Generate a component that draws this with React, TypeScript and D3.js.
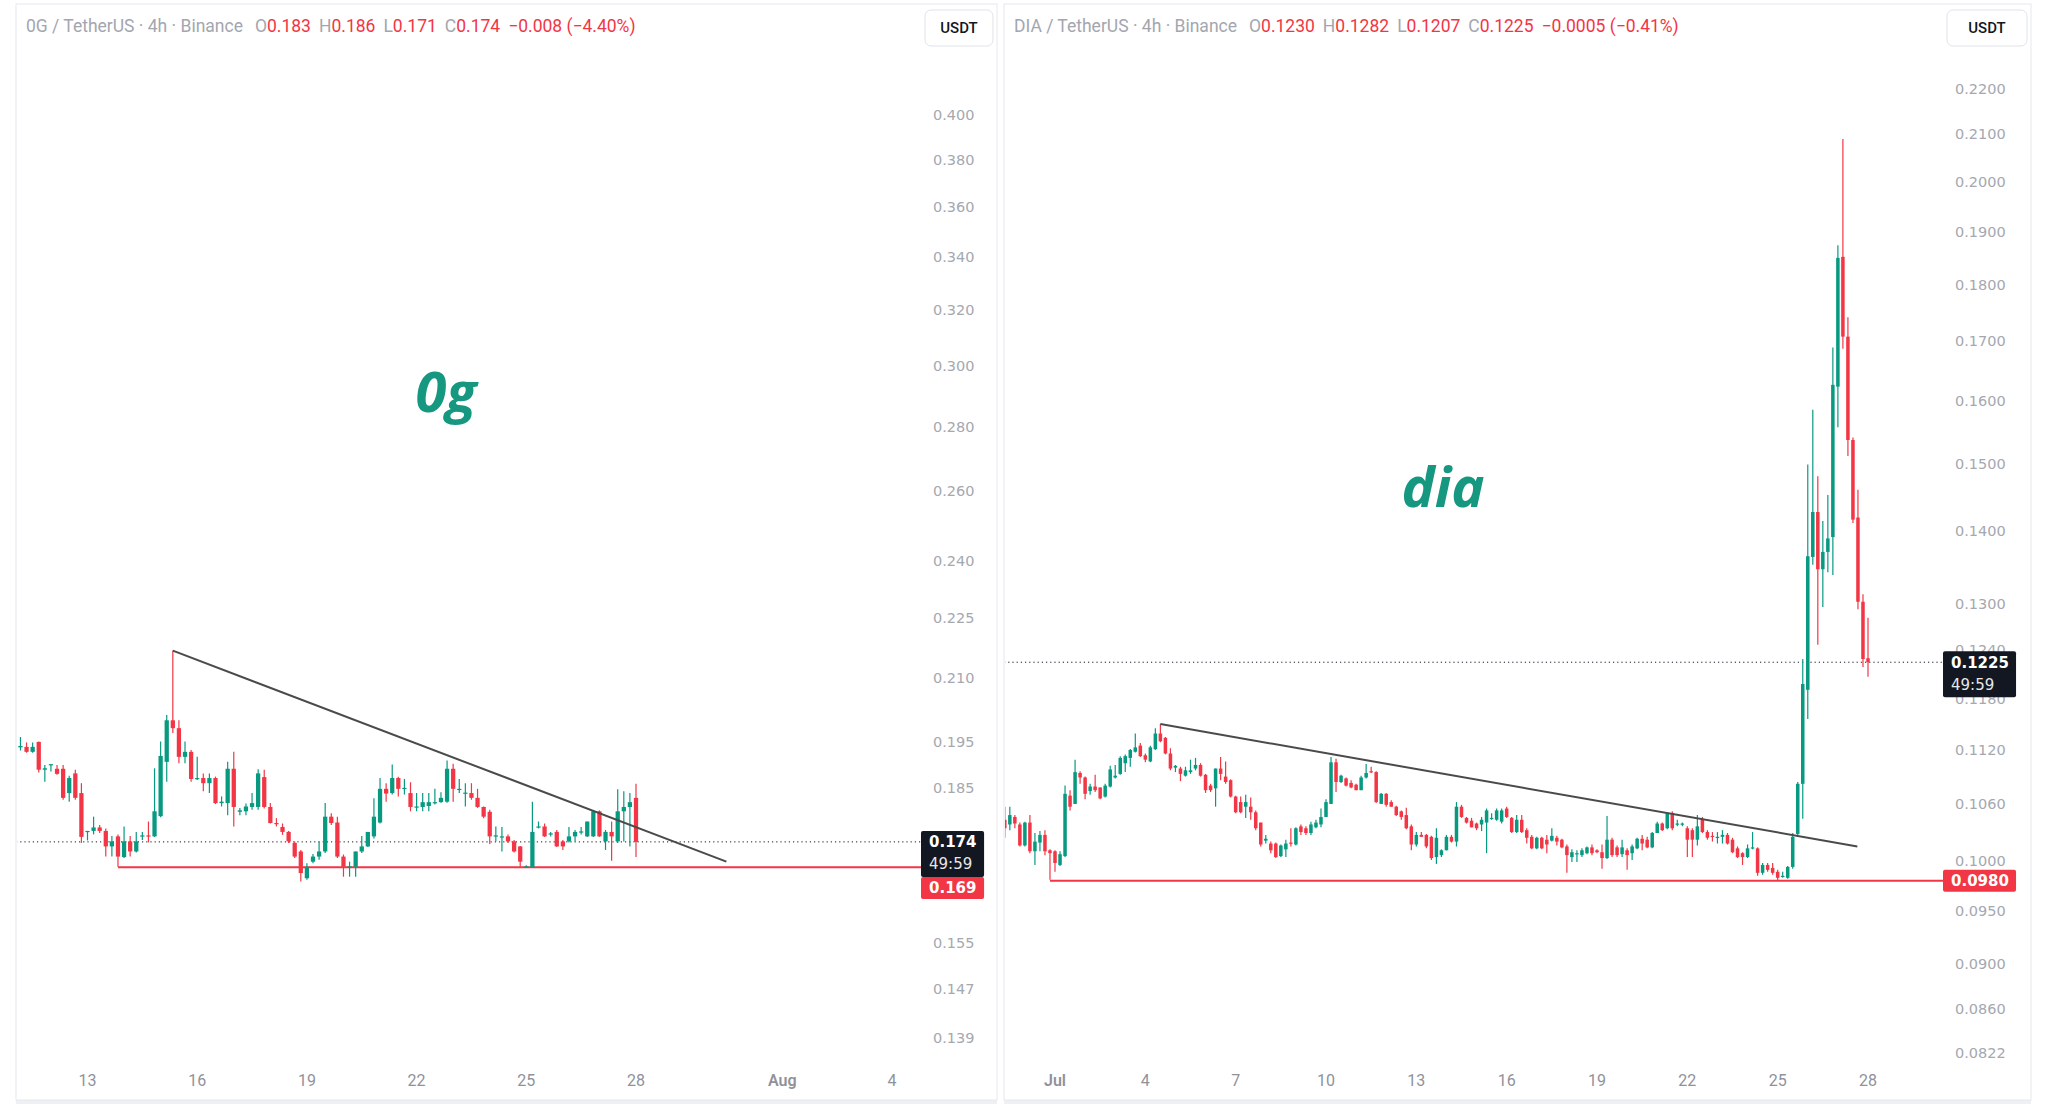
import { useEffect } from "react";
import * as d3 from "d3";

type Candle = [number, number, number, number]; // open, high, low, close

const H4 = 4 * 3600 * 1000;
const UP = "#089981";
const DOWN = "#f23645";

// ── 0G / USDT, 4h ────────────────────────────────────────────────────────────
const OG_FIRST = Date.UTC(2025, 6, 11, 0);
const OG_CANDLES: Candle[] = [
  [0.1971, 0.1974, 0.1944, 0.1948], [0.1939, 0.1962, 0.1932, 0.1942], [0.194, 0.195, 0.1927, 0.1929],
  [0.1929, 0.195, 0.1927, 0.194], [0.1951, 0.1952, 0.1884, 0.189], [0.189, 0.19, 0.1864, 0.1893],
  [0.19, 0.1902, 0.1886, 0.1902], [0.1892, 0.19, 0.1879, 0.1881], [0.1892, 0.19, 0.1826, 0.183],
  [0.184, 0.1877, 0.1822, 0.1872], [0.1882, 0.189, 0.1826, 0.183], [0.184, 0.1861, 0.1738, 0.175],
  [0.176, 0.1762, 0.1743, 0.1762], [0.1762, 0.1791, 0.1755, 0.1769], [0.1769, 0.1774, 0.1758, 0.1762],
  [0.1762, 0.1767, 0.1711, 0.1731], [0.1731, 0.1752, 0.1711, 0.1741], [0.1751, 0.1755, 0.1691, 0.1711],
  [0.171, 0.1771, 0.1708, 0.1741], [0.1741, 0.1752, 0.1711, 0.1721], [0.1721, 0.176, 0.1719, 0.1741],
  [0.1751, 0.176, 0.1744, 0.1753], [0.1753, 0.1781, 0.1739, 0.1751], [0.1751, 0.1893, 0.175, 0.1802],
  [0.1792, 0.1952, 0.179, 0.192], [0.1907, 0.2012, 0.1864, 0.2], [0.2, 0.2166, 0.1971, 0.1982],
  [0.1982, 0.2, 0.1904, 0.1918], [0.1918, 0.1952, 0.1904, 0.1929], [0.1929, 0.1933, 0.1864, 0.187],
  [0.187, 0.1918, 0.1868, 0.1872], [0.1872, 0.1882, 0.1844, 0.1861], [0.1861, 0.1882, 0.184, 0.1872],
  [0.1872, 0.1875, 0.1817, 0.1819], [0.1819, 0.1833, 0.1812, 0.1822], [0.1819, 0.1907, 0.1794, 0.1892],
  [0.1892, 0.1929, 0.1771, 0.1811], [0.1801, 0.1809, 0.1794, 0.1804], [0.1802, 0.1818, 0.1794, 0.1812],
  [0.1811, 0.184, 0.1805, 0.1819], [0.1811, 0.1891, 0.1805, 0.1882], [0.1874, 0.189, 0.1808, 0.1811],
  [0.1811, 0.1819, 0.1777, 0.1778], [0.1778, 0.1788, 0.1771, 0.1777], [0.177, 0.1777, 0.1754, 0.176],
  [0.176, 0.1762, 0.1738, 0.1741], [0.1738, 0.1741, 0.1708, 0.1711], [0.1721, 0.1724, 0.1663, 0.1679],
  [0.1669, 0.1698, 0.1666, 0.1691], [0.1701, 0.1716, 0.1698, 0.1711], [0.1711, 0.1741, 0.1705, 0.1721],
  [0.1721, 0.1819, 0.1718, 0.1791], [0.1791, 0.1798, 0.1774, 0.1778], [0.1779, 0.1791, 0.1708, 0.1711],
  [0.1711, 0.1715, 0.1672, 0.1691], [0.169, 0.1701, 0.1672, 0.1692], [0.1691, 0.1721, 0.1672, 0.1721],
  [0.1721, 0.1752, 0.1718, 0.1731], [0.1731, 0.176, 0.173, 0.176], [0.1751, 0.1829, 0.1747, 0.1791],
  [0.1779, 0.1872, 0.1777, 0.1849], [0.1849, 0.1861, 0.1822, 0.1839], [0.184, 0.1901, 0.1837, 0.1872],
  [0.1872, 0.1875, 0.1833, 0.1849], [0.185, 0.187, 0.1837, 0.1851], [0.184, 0.1863, 0.1802, 0.1811],
  [0.1812, 0.184, 0.1802, 0.1812], [0.1811, 0.184, 0.1802, 0.1821], [0.1813, 0.184, 0.1802, 0.1821],
  [0.182, 0.1849, 0.1816, 0.1821], [0.1821, 0.1842, 0.182, 0.183], [0.1822, 0.191, 0.182, 0.1892],
  [0.1892, 0.1903, 0.1822, 0.1849], [0.1849, 0.187, 0.184, 0.1849], [0.1839, 0.1861, 0.1812, 0.1841],
  [0.184, 0.1861, 0.1826, 0.183], [0.183, 0.1849, 0.1809, 0.1811], [0.1811, 0.1812, 0.1788, 0.1791],
  [0.1801, 0.1805, 0.1736, 0.1751], [0.1752, 0.1771, 0.1741, 0.1753], [0.1751, 0.177, 0.1721, 0.1751],
  [0.1751, 0.1755, 0.1738, 0.1741], [0.1741, 0.1744, 0.1719, 0.1721], [0.1731, 0.1732, 0.1691, 0.1701],
  [0.169, 0.1694, 0.169, 0.1692], [0.169, 0.1822, 0.169, 0.176], [0.177, 0.1781, 0.1767, 0.1771],
  [0.1771, 0.1777, 0.175, 0.1751], [0.1755, 0.176, 0.1751, 0.1757], [0.176, 0.1764, 0.173, 0.1731],
  [0.1741, 0.1744, 0.1724, 0.1731], [0.1741, 0.177, 0.1739, 0.1751], [0.1751, 0.1764, 0.1741, 0.176],
  [0.176, 0.177, 0.1755, 0.1761], [0.1751, 0.1781, 0.175, 0.1781], [0.1751, 0.1804, 0.175, 0.1802],
  [0.1802, 0.1804, 0.175, 0.1751], [0.1741, 0.1764, 0.1724, 0.176], [0.176, 0.1781, 0.1703, 0.1751],
  [0.1741, 0.1848, 0.1738, 0.1802], [0.1802, 0.1844, 0.1741, 0.1811], [0.1811, 0.184, 0.1731, 0.1821],
  [0.183, 0.186, 0.171, 0.174],
];
const OG_PRICE_TICKS = [0.4, 0.38, 0.36, 0.34, 0.32, 0.3, 0.28, 0.26, 0.24, 0.225, 0.21, 0.195, 0.185, 0.155, 0.147, 0.139];
const OG_TIME_TICKS = [
  Date.UTC(2025, 6, 13), Date.UTC(2025, 6, 16), Date.UTC(2025, 6, 19), Date.UTC(2025, 6, 22),
  Date.UTC(2025, 6, 25), Date.UTC(2025, 6, 28), Date.UTC(2025, 7, 1), Date.UTC(2025, 7, 4),
];
const OG_TIME_LABELS = ["13", "16", "19", "22", "25", "28", "Aug", "4"];
const OG_TREND: [number, number][] = [[Date.UTC(2025, 6, 15, 8), 0.2166], [Date.UTC(2025, 6, 30, 11, 20), 0.1701]];
const OG_SUPPORT: [number, number] = [Date.UTC(2025, 6, 13, 20), 0.169];
const OG_LAST = 0.174;
const OG_OHLC_TEXT = ["0.183", "0.186", "0.171", "0.174"];
const OG_CHANGE = "−0.008 (−4.40%)";

// ── DIA / USDT, 4h ───────────────────────────────────────────────────────────
const DIA_FIRST = Date.UTC(2025, 5, 29, 8);
const DIA_CANDLES: Candle[] = [
  [0.1043, 0.1057, 0.1024, 0.1034], [0.1038, 0.1057, 0.1032, 0.1048], [0.1046, 0.1048, 0.1034, 0.1039],
  [0.1038, 0.104, 0.1015, 0.1016], [0.1016, 0.1041, 0.1015, 0.104], [0.104, 0.1048, 0.1008, 0.101],
  [0.101, 0.1029, 0.0996, 0.102], [0.1019, 0.1031, 0.101, 0.1027], [0.1027, 0.1032, 0.1006, 0.101],
  [0.1011, 0.1012, 0.0981, 0.1008], [0.101, 0.1011, 0.0989, 0.0998], [0.0996, 0.101, 0.0995, 0.1007],
  [0.1005, 0.108, 0.1004, 0.1071], [0.1069, 0.1075, 0.1053, 0.1057], [0.106, 0.1109, 0.106, 0.1095],
  [0.1094, 0.1096, 0.1082, 0.1089], [0.1089, 0.109, 0.1065, 0.1071], [0.1074, 0.1082, 0.107, 0.1079],
  [0.1079, 0.1092, 0.1073, 0.1075], [0.1078, 0.1078, 0.1065, 0.1066], [0.1068, 0.1082, 0.1067, 0.108],
  [0.1079, 0.1102, 0.1078, 0.1098], [0.1089, 0.1103, 0.1088, 0.1091], [0.1093, 0.1113, 0.1092, 0.1111],
  [0.1105, 0.1115, 0.1095, 0.1113], [0.1111, 0.1121, 0.1101, 0.112], [0.1118, 0.1139, 0.1117, 0.1123],
  [0.1125, 0.1128, 0.1112, 0.1113], [0.1114, 0.1116, 0.1106, 0.1109], [0.1107, 0.1125, 0.1106, 0.1123],
  [0.1121, 0.1145, 0.112, 0.1139], [0.1139, 0.115, 0.1129, 0.113], [0.1134, 0.1135, 0.1115, 0.1116],
  [0.1116, 0.1122, 0.1097, 0.1099], [0.11, 0.1103, 0.1095, 0.1102], [0.1099, 0.1101, 0.1085, 0.1093],
  [0.1091, 0.1101, 0.109, 0.1097], [0.1095, 0.1109, 0.1093, 0.1097], [0.1099, 0.1111, 0.1097, 0.1103],
  [0.1103, 0.1105, 0.109, 0.1091], [0.1092, 0.1093, 0.1072, 0.1075], [0.108, 0.1082, 0.1073, 0.1075],
  [0.1077, 0.1099, 0.1057, 0.1099], [0.1099, 0.1112, 0.1086, 0.1093], [0.109, 0.1107, 0.1082, 0.1084],
  [0.1086, 0.1087, 0.1067, 0.1068], [0.1068, 0.1069, 0.105, 0.1051], [0.1062, 0.1068, 0.105, 0.1051],
  [0.1057, 0.107, 0.1045, 0.1062], [0.1057, 0.1067, 0.1043, 0.1051], [0.1051, 0.1053, 0.1032, 0.1034],
  [0.104, 0.104, 0.1015, 0.1017], [0.1021, 0.1027, 0.1018, 0.1023], [0.1018, 0.102, 0.1008, 0.1011],
  [0.1018, 0.1019, 0.1003, 0.1004], [0.1005, 0.1017, 0.1004, 0.1016], [0.1012, 0.1022, 0.1004, 0.1018],
  [0.1019, 0.1034, 0.1015, 0.1018], [0.1017, 0.1035, 0.1016, 0.1034], [0.1036, 0.1038, 0.1027, 0.103],
  [0.1034, 0.1036, 0.1027, 0.1029], [0.1029, 0.1041, 0.1027, 0.1038], [0.1035, 0.1043, 0.1034, 0.104],
  [0.1038, 0.1055, 0.1035, 0.1046], [0.1046, 0.1065, 0.1046, 0.1062], [0.106, 0.1112, 0.106, 0.1106],
  [0.1106, 0.111, 0.1073, 0.1084], [0.1084, 0.1092, 0.1083, 0.1091], [0.1088, 0.1089, 0.1079, 0.108],
  [0.1083, 0.1086, 0.1077, 0.1078], [0.1081, 0.1082, 0.1075, 0.1075], [0.1075, 0.1091, 0.1075, 0.1089],
  [0.1089, 0.1104, 0.1088, 0.1094], [0.1096, 0.1101, 0.1094, 0.1095], [0.1095, 0.1096, 0.1061, 0.1062],
  [0.106, 0.1072, 0.106, 0.1071], [0.1071, 0.1072, 0.1057, 0.1059], [0.1062, 0.1064, 0.1057, 0.1057],
  [0.1057, 0.1058, 0.1047, 0.1048], [0.1052, 0.1053, 0.1043, 0.1046], [0.1048, 0.1056, 0.1033, 0.1034],
  [0.1036, 0.1038, 0.1011, 0.1017], [0.1017, 0.103, 0.1015, 0.1027], [0.1027, 0.103, 0.1025, 0.1025],
  [0.1027, 0.1028, 0.1013, 0.1015], [0.1025, 0.1026, 0.1001, 0.1003], [0.1004, 0.1034, 0.0997, 0.1024],
  [0.1006, 0.1012, 0.1004, 0.1011], [0.1011, 0.1027, 0.1011, 0.1025], [0.1025, 0.1027, 0.1019, 0.102],
  [0.102, 0.1062, 0.1015, 0.1057], [0.1057, 0.1059, 0.1045, 0.1046], [0.1045, 0.1046, 0.1039, 0.104],
  [0.1042, 0.1045, 0.1035, 0.1035], [0.1039, 0.104, 0.1032, 0.1034], [0.1038, 0.1046, 0.1031, 0.1043],
  [0.104, 0.1055, 0.1008, 0.1053], [0.1044, 0.105, 0.1043, 0.1045], [0.1043, 0.1055, 0.1042, 0.1053],
  [0.1041, 0.1055, 0.1039, 0.1053], [0.1055, 0.1057, 0.1045, 0.1046], [0.1045, 0.1046, 0.1029, 0.103],
  [0.103, 0.1048, 0.1029, 0.1043], [0.1043, 0.1048, 0.1029, 0.103], [0.1032, 0.1034, 0.1018, 0.1024],
  [0.1025, 0.1027, 0.1012, 0.1013], [0.1013, 0.1025, 0.1012, 0.1024], [0.1024, 0.1025, 0.1012, 0.1013],
  [0.1022, 0.1027, 0.1008, 0.1017], [0.1021, 0.1034, 0.102, 0.1026], [0.1024, 0.1026, 0.1016, 0.102],
  [0.1022, 0.1023, 0.1013, 0.1014], [0.1015, 0.1017, 0.0988, 0.1006], [0.1004, 0.1012, 0.0999, 0.1009],
  [0.1007, 0.1011, 0.0999, 0.1008], [0.1006, 0.1013, 0.1004, 0.1011], [0.1008, 0.1015, 0.1007, 0.1014],
  [0.1014, 0.1017, 0.1006, 0.1008], [0.1011, 0.1012, 0.1008, 0.1009], [0.1009, 0.1017, 0.0992, 0.1003],
  [0.1003, 0.1047, 0.1002, 0.1022], [0.1022, 0.1024, 0.1004, 0.1006], [0.1014, 0.1016, 0.1004, 0.1006],
  [0.1007, 0.1022, 0.1004, 0.1014], [0.1011, 0.1013, 0.0991, 0.1006], [0.1008, 0.1017, 0.1001, 0.1015],
  [0.1013, 0.1024, 0.1012, 0.1023], [0.1023, 0.1027, 0.1011, 0.1018], [0.1022, 0.1025, 0.1013, 0.1014],
  [0.1014, 0.103, 0.1013, 0.1029], [0.1029, 0.1041, 0.1029, 0.1039], [0.1039, 0.104, 0.1031, 0.1032],
  [0.1034, 0.1051, 0.1033, 0.105], [0.105, 0.1052, 0.1032, 0.1034], [0.1038, 0.1043, 0.1036, 0.1039],
  [0.1038, 0.104, 0.1036, 0.1039], [0.1034, 0.1036, 0.1004, 0.1022], [0.1032, 0.1034, 0.1004, 0.1022],
  [0.1022, 0.1048, 0.1016, 0.1036], [0.1044, 0.1046, 0.1029, 0.103], [0.103, 0.1032, 0.1022, 0.1024],
  [0.1026, 0.103, 0.102, 0.1025], [0.1025, 0.103, 0.1018, 0.1025], [0.1025, 0.1032, 0.1018, 0.1027],
  [0.1027, 0.1029, 0.1017, 0.1018], [0.1022, 0.1024, 0.1008, 0.1009], [0.1013, 0.1015, 0.1003, 0.1004],
  [0.1008, 0.1009, 0.0996, 0.1004], [0.1004, 0.1017, 0.1003, 0.1013], [0.1013, 0.103, 0.1012, 0.1014],
  [0.1013, 0.1014, 0.0985, 0.0988], [0.0988, 0.0998, 0.0986, 0.0996], [0.0996, 0.0998, 0.0989, 0.0991],
  [0.0993, 0.0998, 0.0986, 0.0988], [0.0989, 0.0991, 0.098, 0.0983], [0.0984, 0.0989, 0.0983, 0.0985],
  [0.0983, 0.0995, 0.0982, 0.0994], [0.0994, 0.1029, 0.0992, 0.1025], [0.1028, 0.1084, 0.1025, 0.1082],
  [0.1082, 0.1229, 0.1044, 0.1198], [0.1191, 0.1499, 0.1156, 0.1365], [0.1364, 0.1585, 0.1353, 0.1428],
  [0.1428, 0.1481, 0.1247, 0.1347], [0.1347, 0.1415, 0.1296, 0.1371], [0.1371, 0.1453, 0.1343, 0.139],
  [0.1392, 0.1689, 0.1339, 0.1626], [0.1623, 0.1875, 0.1557, 0.1851], [0.1853, 0.209, 0.1687, 0.1708],
  [0.1708, 0.1742, 0.1512, 0.1537], [0.1537, 0.1541, 0.1412, 0.1417], [0.142, 0.1461, 0.1293, 0.1303],
  [0.1303, 0.1313, 0.1219, 0.1229], [0.123, 0.1282, 0.1207, 0.1225],
];
const DIA_PRICE_TICKS = [0.22, 0.21, 0.2, 0.19, 0.18, 0.17, 0.16, 0.15, 0.14, 0.13, 0.124, 0.118, 0.112, 0.106, 0.1, 0.095, 0.09, 0.086, 0.0822];
const DIA_TIME_TICKS = [
  Date.UTC(2025, 6, 1), Date.UTC(2025, 6, 4), Date.UTC(2025, 6, 7), Date.UTC(2025, 6, 10), Date.UTC(2025, 6, 13),
  Date.UTC(2025, 6, 16), Date.UTC(2025, 6, 19), Date.UTC(2025, 6, 22), Date.UTC(2025, 6, 25), Date.UTC(2025, 6, 28),
];
const DIA_TIME_LABELS = ["Jul", "4", "7", "10", "13", "16", "19", "22", "25", "28"];
const DIA_TREND: [number, number][] = [[Date.UTC(2025, 6, 4, 12), 0.115], [Date.UTC(2025, 6, 27, 15, 30), 0.1015]];
const DIA_SUPPORT: [number, number] = [Date.UTC(2025, 5, 30, 20), 0.098];
const DIA_LAST = 0.1225;
const DIA_OHLC_TEXT = ["0.1230", "0.1282", "0.1207", "0.1225"];
const DIA_CHANGE = "−0.0005 (−0.41%)";

const COUNTDOWN = "49:59";

interface PanelProps {
  id: string;
  x0: number; x1: number; y0: number; y1: number;
  plotRight: number;
  xDomain: [number, number]; xRange: [number, number];
  yDomain: [number, number]; yRange: [number, number];
  first: number;
  candles: Candle[];
  priceTicks: number[];
  decimals: number;
  timeTicks: number[];
  timeLabels: string[];
  trend: [number, number][];
  support: [number, number];
  last: number;
  pair: string;
  ohlcText: string[];
  change: string;
  note: string; noteX: number; noteY: number;
}

function Panel(p: PanelProps) {
  const x = d3.scaleUtc().domain(p.xDomain.map((d) => new Date(d))).range(p.xRange);
  const y = d3.scaleLog().domain(p.yDomain).range(p.yRange);
  const step = x(new Date(p.first + H4)) - x(new Date(p.first));
  const bodyW = step * 0.7;
  const fmt = d3.format(`.${p.decimals}f`);
  const clip = `clip-${p.id}`;

  const lastY = y(p.last);
  const supY = y(p.support[1]);
  const boxW = (p.x1 - p.plotRight) * 0.83;
  const blackTop = lastY - 11;
  const blackBot = lastY + 35;
  let redTop = supY - 11;
  if (redTop < blackBot && redTop + 22 > blackTop) redTop = blackBot;

  const lineGen = d3
    .line<[number, number]>()
    .x((d) => x(new Date(d[0])))
    .y((d) => y(d[1]));

  const labelX = p.plotRight + 12;

  return (
    <g>
      <rect x={p.x0} y={p.y1} width={p.x1 - p.x0} height={4} fill="#eef0f3" />
      <rect x={p.x0} y={p.y0} width={p.x1 - p.x0} height={p.y1 - p.y0} fill="#fff" stroke="#e6e8ed" />
      <clipPath id={clip}>
        <rect x={p.x0 + 1} y={p.y0 + 1} width={p.plotRight - p.x0 - 1} height={p.y1 - p.y0 - 2} />
      </clipPath>

      <g clipPath={`url(#${clip})`}>
        {/* last price dotted line */}
        <line x1={p.x0} x2={p.plotRight} y1={lastY} y2={lastY} stroke="#131722" strokeWidth={1} strokeDasharray="1.2 3" />
        {/* support */}
        <line x1={x(new Date(p.support[0]))} x2={p.plotRight} y1={supY} y2={supY} stroke={DOWN} strokeWidth={2} />

        {p.candles.map(([o, h, l, c], i) => {
          const cx = x(new Date(p.first + i * H4));
          const col = c >= o ? UP : DOWN;
          const top = y(Math.max(o, c));
          const bot = y(Math.min(o, c));
          return (
            <g key={i}>
              <line x1={cx} x2={cx} y1={y(h)} y2={y(l)} stroke={col} strokeWidth={1.2} />
              <rect x={cx - bodyW / 2} y={top} width={bodyW} height={Math.max(1.2, bot - top)} fill={col} />
            </g>
          );
        })}

        <path d={lineGen(p.trend) ?? ""} stroke="#4a4a4a" strokeWidth={2} fill="none" />
      </g>

      <text
        x={p.noteX}
        y={p.noteY}
        textAnchor="middle"
        fontFamily="'Open Sans', 'Noto Sans', sans-serif"
        fontStyle="italic"
        fontWeight={700}
        fontSize={56}
        fill="#16977f"
      >
        {p.note}
      </text>

      {/* price axis */}
      {p.priceTicks.map((v) => (
        <text key={v} x={labelX} y={y(v)} dy="0.35em" fontFamily="'DejaVu Sans', sans-serif" fontSize={14.5} fill="#a5a8b0">
          {fmt(v)}
        </text>
      ))}

      {/* time axis */}
      {p.timeTicks.map((t, i) => {
        const lab = p.timeLabels[i];
        const month = /[A-Za-z]/.test(lab);
        return (
          <text
            key={t}
            x={x(new Date(t))}
            y={1080}
            dy="0.35em"
            textAnchor="middle"
            fontFamily="Roboto, sans-serif"
            fontSize={16}
            fontWeight={month ? 600 : 400}
            fill="#8f929b"
          >
            {lab}
          </text>
        );
      })}

      {/* price labels on the scale */}
      <rect x={p.plotRight} y={blackTop} width={boxW} height={blackBot - blackTop} rx={2} fill="#131722" />
      <text x={p.plotRight + 8} y={lastY} dy="0.36em" fontFamily="'DejaVu Sans', sans-serif" fontWeight={700} fontSize={15} fill="#fff">
        {fmt(p.last)}
      </text>
      <text x={p.plotRight + 8} y={lastY + 22} dy="0.36em" fontFamily="'DejaVu Sans', sans-serif" fontSize={15} fill="#e8e8e8">
        {COUNTDOWN}
      </text>
      <rect x={p.plotRight} y={redTop} width={boxW} height={22} rx={2} fill={DOWN} />
      <text x={p.plotRight + 8} y={redTop + 11} dy="0.36em" fontFamily="'DejaVu Sans', sans-serif" fontWeight={700} fontSize={15} fill="#fff">
        {fmt(p.support[1])}
      </text>

      {/* header */}
      <text x={p.x0 + 10} y={32} fontFamily="Roboto, 'Noto Sans', sans-serif" fontSize={17.5} fill="#a3a6af">
        {p.pair}
        <tspan dx={12}>O</tspan>
        <tspan fill={DOWN}>{p.ohlcText[0]}</tspan>
        <tspan dx={8}>H</tspan>
        <tspan fill={DOWN}>{p.ohlcText[1]}</tspan>
        <tspan dx={8}>L</tspan>
        <tspan fill={DOWN}>{p.ohlcText[2]}</tspan>
        <tspan dx={8}>C</tspan>
        <tspan fill={DOWN}>{p.ohlcText[3]}</tspan>
        <tspan dx={8} fill={DOWN}>{p.change}</tspan>
      </text>

      <rect x={p.plotRight + 4} y={10} width={p.x1 - p.plotRight - 8} height={36} rx={6} fill="#fff" stroke="#e0e3eb" />
      <text
        x={p.plotRight + (p.x1 - p.plotRight) / 2}
        y={28}
        dy="0.36em"
        textAnchor="middle"
        fontFamily="Roboto, sans-serif"
        fontWeight={500}
        fontSize={15}
        fill="#131722"
      >
        USDT
      </text>
    </g>
  );
}

export default function App() {
  useEffect(() => {
    document.body.style.margin = "0";
  }, []);

  return (
    <svg width={2048} height={1120} style={{ display: "block", background: "#fff" }}>
      <Panel
        id="og"
        x0={16} x1={997} y0={4} y1={1100}
        plotRight={921}
        xDomain={[Date.UTC(2025, 6, 13), Date.UTC(2025, 6, 28)]}
        xRange={[87.5, 636]}
        yDomain={[0.4, 0.139]}
        yRange={[115, 1038]}
        first={OG_FIRST}
        candles={OG_CANDLES}
        priceTicks={OG_PRICE_TICKS}
        decimals={3}
        timeTicks={OG_TIME_TICKS}
        timeLabels={OG_TIME_LABELS}
        trend={OG_TREND}
        support={OG_SUPPORT}
        last={OG_LAST}
        pair="0G / TetherUS · 4h · Binance"
        ohlcText={OG_OHLC_TEXT}
        change={OG_CHANGE}
        note="0g" noteX={446} noteY={412}
      />
      <Panel
        id="dia"
        x0={1004} x1={2031} y0={4} y1={1100}
        plotRight={1943}
        xDomain={[Date.UTC(2025, 6, 1), Date.UTC(2025, 6, 28)]}
        xRange={[1055, 1868]}
        yDomain={[0.22, 0.0822]}
        yRange={[88.7, 1053]}
        first={DIA_FIRST}
        candles={DIA_CANDLES}
        priceTicks={DIA_PRICE_TICKS}
        decimals={4}
        timeTicks={DIA_TIME_TICKS}
        timeLabels={DIA_TIME_LABELS}
        trend={DIA_TREND}
        support={DIA_SUPPORT}
        last={DIA_LAST}
        pair="DIA / TetherUS · 4h · Binance"
        ohlcText={DIA_OHLC_TEXT}
        change={DIA_CHANGE}
        note="dia" noteX={1443} noteY={507}
      />
    </svg>
  );
}
